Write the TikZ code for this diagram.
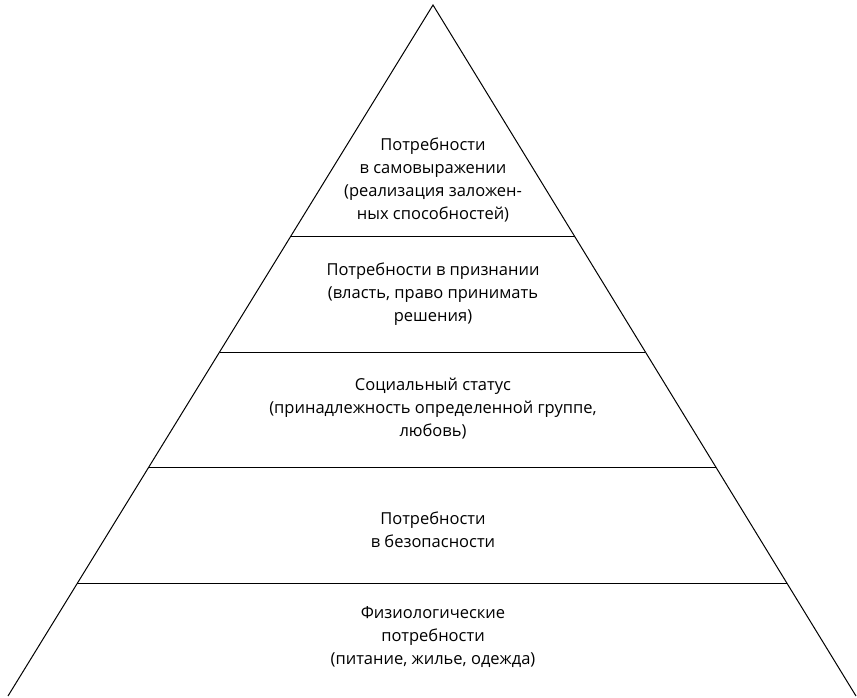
\documentclass[tikz,border=0pt]{standalone}
\usepackage{fontspec}
\setmainfont{Open Sans}
\usetikzlibrary{calc}
\begin{document}
\begin{tikzpicture}[x=1pt,y=-1pt,
  edge/.style={line width=1pt, black},
  label/.style={align=center, font=\fontsize{16.5}{23}\selectfont, inner sep=0pt}]
\useasboundingbox (0,0) rectangle (857,697);
% pyramid outline
\coordinate (apex) at (433,5);
\coordinate (bl) at (8,696);
\coordinate (br) at (856,696);
\draw[edge] (bl) -- (apex) -- (br);
% tier dividers
\foreach \t/\n in {0.3357/a,0.5022/b,0.6686/c,0.8365/d}{
  \coordinate (l\n) at ($(apex)!\t!(bl)$);
  \coordinate (r\n) at ($(apex)!\t!(br)$);
  \draw[edge] (l\n) -- (r\n);
}
% tier captions
\node[label] (t1) at (433,180) {Потребности\\в самовыражении\\(реализация заложен-\\ных способностей)};
\node[label] (t2) at (433,294) {Потребности в признании\\(власть, право принимать\\решения)};
\node[label] (t3) at (433,409) {Социальный статус\\(принадлежность определенной группе,\\любовь)};
\node[label] (t4) at (433,530) {Потребности\\в безопасности};
\node[label] (t5) at (433,637) {Физиологические\\потребности\\(питание, жилье, одежда)};
\end{tikzpicture}
\end{document}
